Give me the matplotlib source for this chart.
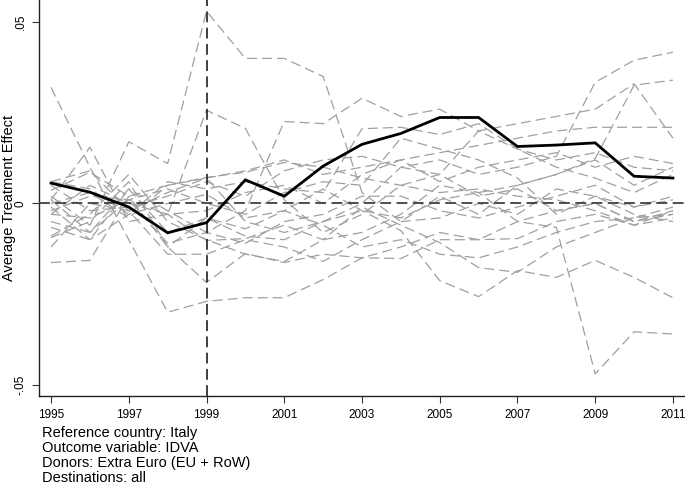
import matplotlib
matplotlib.use("Agg")
import matplotlib.pyplot as plt
import numpy as np

plt.rcParams['font.family'] = ['Liberation Sans', 'DejaVu Sans']

years = list(range(1995, 2012))

# Treated unit (Italy) average treatment effect
italy = [0.0056, 0.0031, -0.0010, -0.0081, -0.0053, 0.0065, 0.0020, 0.0103,
         0.0163, 0.0193, 0.0237, 0.0237, 0.0157, 0.0161, 0.0167, 0.0075, 0.0070]

# Placebo series (x 0.001)
placebo_1 = [2, -6, 17, 11, 53, 40, 40, 35, 3, -5, 2, -3, 5, 8, 12, 5, 10]
placebo_2 = [32, 10, -10, -30, -27, -26, -26, -21, -15, -12, -8, -10, -5, -2, 0, -5, -2]
placebo_3 = [-3, 5, 0, -3, 25.7, 20.7, 1, -8, -3, 5, 8, 2, 4, -2, 0, -5, -3]
placebo_4 = [-5, -8, 4, -2, -8, -2, 22.6, 22, 29, 24, 26, 20, 22, 24, 26, 33, 18]
placebo_5 = [0, 3, -4, 5, 7, -5, -8, -5, 0, 10, 12, 8, 10, 13, 33.4, 39.5, 41.7]
placebo_6 = [-9.4, -5, 6, -12, -4, -9, -10, -5, -2, -4, 1, 3, 5, 8, 12.4, 32.6, 34]
placebo_7 = [6, 9, -2, 3, 7, 9, 12, 8, 10, 12, 14, 16, 18, 20, 21, 21, 21]
placebo_8 = [-9, -3, 8, -5, -10, -14, -16, -10, -8, -3, 5, 3, -5, -6.6, -47, -35.4, -36]
placebo_9 = [-1, -10, -3, 0, 2.5, -4, -2, 4, -2, -7.5, -21.3, -25.7, -18.5, -20.4, -15.7, -20.4, -26]
placebo_10 = [-16.3, -15.7, 2, -12, -21.8, -13.8, -16.3, -14, -15, -15.2, -10, -10, -9.7, -5, -3, -6, -2]
placebo_11 = [-3, -4, 1, -3, -10.2, -9.7, -6, -10, -1, -6, -10.8, -17.7, -19, -12, -8, -4, -1]
placebo_12 = [3.6, 8.6, 2, 5, 7.2, 8.6, 11.3, 10, 7, 5, 3, 4, 2, 1, -2, -6, -4]
placebo_13 = [1, 15.5, -5, -3, -2, 3, 5, 0, 8, 12, 6, 10, 12, 14, 10, 13, 11]
placebo_14 = [-6.6, -10, 4, -8, -4, -7, -2, -6, -12, -10, -14, -15, -12, -8, -5, -4, -3]
placebo_15 = [-2, 2, 1, 4, 0, -3, 3, 6, 5, 18, 15, 12, 7, -3, 2, -1, 2]
placebo_16 = [5, -2, -1, 2, 6, 2, 9, 12, 13, 10, 8, 20, 15, 12, 14, 10, 9]
placebo_17 = [1, -8, 1, -11, -8, -11, -5, -3, 2, 2, -2, -4, -1, 2, 5, -1, 1]
placebo_18 = [-12, 0, -2, -14, -14, -10, -12, -16, -10, -5, -4, 0, -3, 4, 2, -3, -5]
placebo_19 = [6, 4, -3, 6, 4, 6, 4, 3, 20.6, 21, 19, 22, 15, 10, 7, 3, 8]

placebos = [placebo_1, placebo_2, placebo_3, placebo_4, placebo_5, placebo_6,
            placebo_7, placebo_8, placebo_9, placebo_10, placebo_11, placebo_12,
            placebo_13, placebo_14, placebo_15, placebo_16, placebo_17,
            placebo_18, placebo_19]

xticks = [1995, 1997, 1999, 2001, 2003, 2005, 2007, 2009, 2011]
yticks = [-0.05, 0, 0.05]
ytick_labels = ["-.05", "0", ".05"]
treat_year = 1999

notes = ["Reference country: Italy",
         "Outcome variable: IDVA",
         "Donors: Extra Euro (EU + RoW)",
         "Destinations: all"]

fig = plt.figure(figsize=(6.85, 4.87), dpi=100)
ax = fig.add_axes([39/685, 91/487, 646/685, 396/487])

for p in placebos:
    ax.plot(years, np.array(p) * 0.001, color='#a0a0a0', lw=0.9,
            dashes=(8, 4), zorder=2)

ax.axhline(0, color='#404040', lw=1.3, dashes=(6, 3), zorder=3)
ax.axvline(treat_year, color='#303030', lw=1.3, dashes=(6, 3), zorder=3)
ax.plot(years, italy, color='black', lw=2.0, zorder=4, solid_joinstyle='miter')

ax.set_xlim(1994.69, 2011.31)
ax.set_ylim(-0.0531, 0.0561)
ax.set_xticks(xticks)
ax.set_xticklabels([str(x) for x in xticks], fontsize=8.5)
ax.set_yticks(yticks)
ax.set_yticklabels(ytick_labels, fontsize=8.5, rotation=90, va='center')
ax.tick_params(axis='both', length=5, width=0.8, color='#333333')
ax.tick_params(axis='x', pad=4)
ax.tick_params(axis='y', pad=4)

for s in ['top', 'right']:
    ax.spines[s].set_visible(False)
for s in ['left', 'bottom']:
    ax.spines[s].set_linewidth(1.0)
    ax.spines[s].set_color('#222222')

ax.set_ylabel("Average Treatment Effect", fontsize=10.5)
ax.yaxis.set_label_coords(-23/646, 0.5)

for i, t in enumerate(notes):
    fig.text(42/685, 1 - (433 + 15*i)/487, t, fontsize=10.5, va='center', ha='left')

fig.savefig("out.png", dpi=100)
